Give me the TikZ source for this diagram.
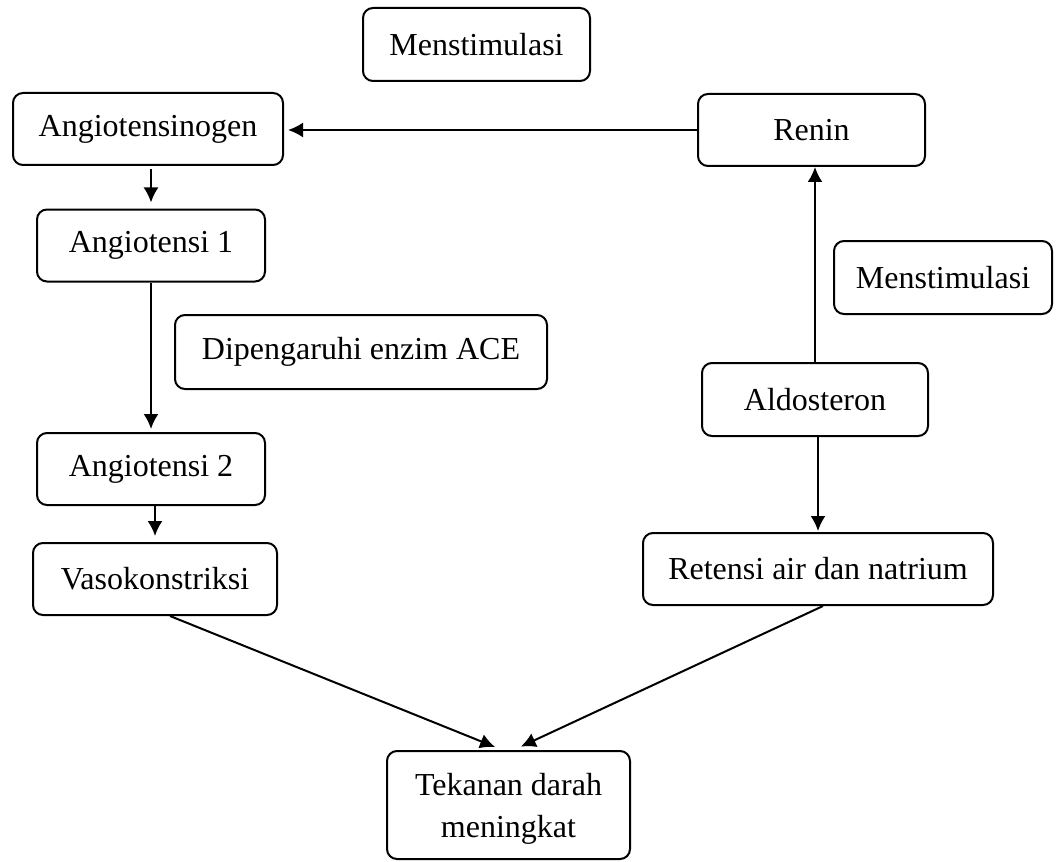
\documentclass[tikz,border=0pt]{standalone}
\usepackage{fontspec}
\setmainfont{Liberation Serif}
\usepackage{tikz}
\usetikzlibrary{arrows.meta}

\begin{document}
\begin{tikzpicture}[x=0.5pt,y=-0.5pt,
    kotak/.style={draw,line width=1pt,rounded corners=5pt,inner sep=0pt,
        minimum height=36pt,align=center,font=\fontsize{16}{21}\selectfont},
    panah/.style={line width=1pt,-{Latex[length=7.5pt,width=7.5pt]}}]
    \useasboundingbox (0,0) rectangle (1058,861);
    % left column
    \node[kotak,minimum width=135pt] (agen) at (148,129) {Angiotensinogen};
    \node[kotak,minimum width=114pt] (ang1) at (151,245.5) {Angiotensi 1};
    \node[kotak,minimum width=186pt,minimum height=37pt] (ace) at (361,352) {Dipengaruhi enzim ACE};
    \node[kotak,minimum width=114pt] (ang2) at (151,469) {Angiotensi 2};
    \node[kotak,minimum width=122pt] (vaso) at (155,579) {Vasokonstriksi};
    % right column
    \node[kotak,minimum width=113.5pt,minimum height=36.5pt] (stim1) at (476.5,44.5) {Menstimulasi};
    \node[kotak,minimum width=113.5pt] (renin) at (811.5,130) {Renin};
    \node[kotak,minimum width=109pt,minimum height=36.5pt] (stim2) at (943,277.5) {Menstimulasi};
    \node[kotak,minimum width=113pt,minimum height=36.5pt] (aldo) at (815,399.5) {Aldosteron};
    \node[kotak,minimum width=175pt] (retensi) at (818,569) {Retensi air dan natrium};
    \node[kotak,minimum width=121.5pt,minimum height=54pt,text depth=-4pt] (tekanan) at (508.5,805) {Tekanan darah\\meningkat};

    \draw[panah,shorten >=2pt] (renin.west) -- (renin.west -| agen.east);
    \draw[panah,shorten <=1.5pt,shorten >=3pt] (ang1.north |- agen.south) -- (ang1.north);
    \draw[panah,shorten >=1.5pt] (ang1.south) -- (ang2.north);
    \draw[panah,shorten <=-1pt,shorten >=3pt] (vaso.north |- ang2.south) -- (vaso.north);
    \draw[panah] (aldo.north) -- (aldo.north |- renin.south);
    \draw[panah,shorten >=0.5pt] (retensi.north |- aldo.south) -- (retensi.north);
    \draw[panah,shorten >=4pt] ([xshift=7.5pt]vaso.south) -- ([xshift=-3pt]tekanan.north);
    \draw[panah,shorten >=4pt] ([xshift=2.5pt]retensi.south) -- ([xshift=2.5pt]tekanan.north);
\end{tikzpicture}
\end{document}
